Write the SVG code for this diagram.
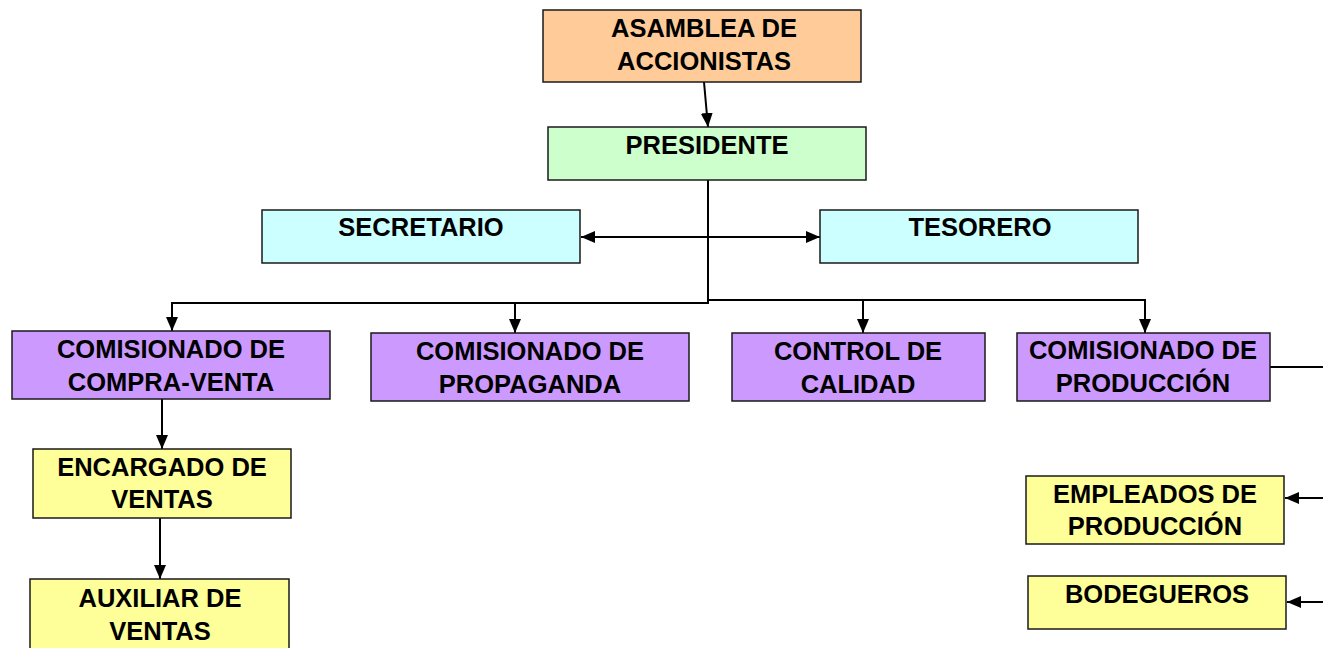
<svg xmlns="http://www.w3.org/2000/svg" width="1323" height="648" viewBox="0 0 1323 648">
<defs>
<marker id="ah" viewBox="0 0 14 12" refX="14" refY="6" markerWidth="14" markerHeight="12" markerUnits="userSpaceOnUse" orient="auto-start-reverse">
<path d="M0,0 L14,6 L0,12 Z" fill="#000"/>
</marker>
<style>
.b{stroke:#1a1a1a;stroke-width:1.5}
.or{fill:#FFCC99}.gr{fill:#CCFFCC}.cy{fill:#CCFFFF}.pu{fill:#CC99FF}.ye{fill:#FFFF99}
text{font-family:"Liberation Sans",Arial,sans-serif;font-weight:bold;font-size:25.5px;fill:#000;text-anchor:middle}
.c{fill:none;stroke:#000;stroke-width:2}
</style>
</defs>
<rect width="1323" height="648" fill="#fff"/>
<g id="connectors">
<line class="c" x1="704" y1="82" x2="708" y2="127" marker-end="url(#ah)"/>
<line class="c" x1="581" y1="237" x2="820" y2="237" marker-start="url(#ah)" marker-end="url(#ah)"/>
<polyline class="c" points="708,180 708,303 172,303 172,331" marker-end="url(#ah)"/>
<polyline class="c" points="708,300 1145,300 1145,333" marker-end="url(#ah)"/>
<line class="c" x1="515" y1="303" x2="515" y2="333" marker-end="url(#ah)"/>
<line class="c" x1="863" y1="300" x2="863" y2="333" marker-end="url(#ah)"/>
<line class="c" x1="1270" y1="367" x2="1323" y2="367"/>
<line class="c" x1="162" y1="399" x2="162" y2="449" marker-end="url(#ah)"/>
<line class="c" x1="160" y1="518" x2="160" y2="579" marker-end="url(#ah)"/>
<line class="c" x1="1323" y1="498" x2="1285" y2="498" marker-end="url(#ah)"/>
<line class="c" x1="1323" y1="602" x2="1287" y2="602" marker-end="url(#ah)"/>
</g>
<g id="asamblea"><rect class="b or" x="543" y="10" width="318" height="72"/><text x="704" y="37">ASAMBLEA DE</text><text x="704" y="70">ACCIONISTAS</text></g>
<g id="presidente"><rect class="b gr" x="548" y="127" width="318" height="53"/><text x="707" y="154">PRESIDENTE</text></g>
<g id="secretario"><rect class="b cy" x="262" y="210" width="318" height="53"/><text x="421" y="236">SECRETARIO</text></g>
<g id="tesorero"><rect class="b cy" x="820" y="210" width="318" height="53"/><text x="980" y="236">TESORERO</text></g>
<g id="compraventa"><rect class="b pu" x="12" y="331" width="318" height="68"/><text x="171" y="358">COMISIONADO DE</text><text x="171" y="391">COMPRA-VENTA</text></g>
<g id="propaganda"><rect class="b pu" x="371" y="333" width="318" height="68"/><text x="530" y="360">COMISIONADO DE</text><text x="530" y="393">PROPAGANDA</text></g>
<g id="calidad"><rect class="b pu" x="732" y="333" width="253" height="68"/><text x="858" y="360">CONTROL DE</text><text x="858" y="393">CALIDAD</text></g>
<g id="produccion"><rect class="b pu" x="1017" y="333" width="253" height="68"/><text x="1143" y="359">COMISIONADO DE</text><text x="1143" y="392">PRODUCCIÓN</text></g>
<g id="encargado"><rect class="b ye" x="33" y="449" width="258" height="69"/><text x="162" y="476">ENCARGADO DE</text><text x="162" y="508">VENTAS</text></g>
<g id="auxiliar"><rect class="b ye" x="30" y="579" width="259" height="75"/><text x="160" y="607">AUXILIAR DE</text><text x="160" y="640">VENTAS</text></g>
<g id="empleados"><rect class="b ye" x="1026" y="476" width="258" height="68"/><text x="1155" y="503">EMPLEADOS DE</text><text x="1155" y="535">PRODUCCIÓN</text></g>
<g id="bodegueros"><rect class="b ye" x="1028" y="576" width="258" height="53"/><text x="1157" y="603">BODEGUEROS</text></g>
</svg>
